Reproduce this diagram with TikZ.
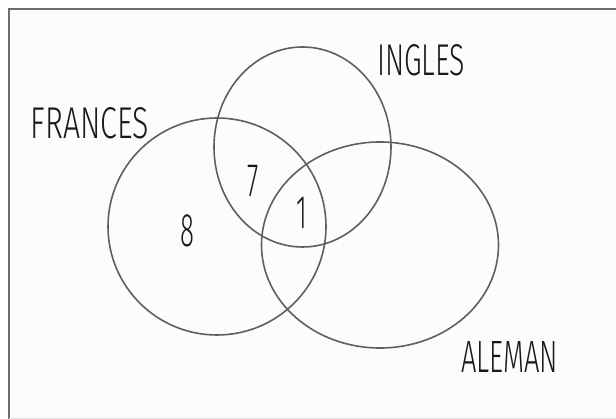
\documentclass[tikz,border=0pt]{standalone}
\usepackage{fontspec}
\setmainfont{Fira Sans Light}
\usetikzlibrary{shapes.geometric}
\definecolor{ringgray}{RGB}{95,95,95}
\definecolor{framegray}{RGB}{110,110,110}
\definecolor{paper}{RGB}{252,252,252}
\tikzset{
  venn/.style={ellipse, draw=ringgray, line width=1.6pt, inner sep=0pt, outer sep=0pt},
  lbl/.style={anchor=base, inner sep=0pt, font=\fontsize{43}{43}\selectfont, text=black!90},
  digit/.style={lbl, font=\fontsize{47}{47}\selectfont},
}
\newcommand{\fitword}[2]{\resizebox{#1}{31pt}{#2}}
\newcommand{\narrow}[1]{\scalebox{0.55}[1]{#1}}
\begin{document}
\begin{tikzpicture}[x=1pt,y=-1pt]
\useasboundingbox (0,0) rectangle (616,419);
\fill[white] (0,0) rectangle (616,419);
\fill[paper] (9,9) rectangle (616,418);
\draw[framegray, line width=2pt] (9,419) -- (9,9) -- (616,9);
\draw[black!12, line width=0.8pt] (9,418) -- (616,418);
% circles
\node[venn, minimum width=218pt, minimum height=217pt] (fr) at (217,226.5) {};
\node[venn, minimum width=177pt, minimum height=200pt] (in) at (302.5,147) {};
\node[venn, minimum width=237pt, minimum height=206pt] (al) at (380,245) {};
% labels
\node[lbl] (tfr) at (90,139) {\fitword{118pt}{FRANCES}};
\node[lbl] (tin) at (421,76) {\fitword{88pt}{INGLES}};
\node[lbl] (tal) at (509.5,373) {\fitword{97pt}{ALEMAN}};
\node[digit] (n7) at (253,197) {\narrow{7}};
\node[digit] (n1) at (302,229) {\narrow{1}};
\node[digit] (n8) at (187,247) {\narrow{8}};
\end{tikzpicture}
\end{document}
